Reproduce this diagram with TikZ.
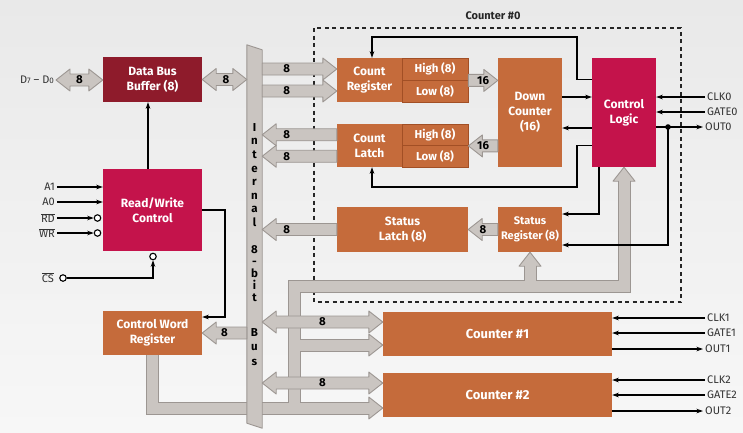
\documentclass[tikz,border=0pt]{standalone}
\usepackage{fontspec}
\setmainfont{Fira Sans}
\usetikzlibrary{calc,arrows.meta}
\definecolor{dred}{HTML}{8E1B2B}
\definecolor{crim}{HTML}{C4134B}
\definecolor{ora}{HTML}{C56B3B}
\definecolor{orad}{HTML}{A24F25}
\definecolor{pfill}{HTML}{CAC5C1}
\definecolor{pedge}{HTML}{9C9692}
\definecolor{bgT}{HTML}{E9E9E9}
\definecolor{bgB}{HTML}{F7F7F7}
\definecolor{sigc}{HTML}{333333}
\tikzset{
 box/.style={inner sep=0pt, text=white, font=\bfseries\fontsize{12}{15}\selectfont, align=center},
 dbox/.style={box, fill=dred},
 cbox/.style={box, fill=crim},
 obox/.style={box, fill=ora},
 hlbox/.style={box, fill=ora, draw=orad, line width=0.8pt, font=\bfseries\fontsize{11.5}{14}\selectfont},
 blk/.style={fill=pfill, draw=pedge, line width=0.9pt, line join=round},
 lbl8/.style={font=\bfseries\fontsize{11.5}{11.5}\selectfont, text=black, inner sep=0pt},
 conn/.style={draw=black, line width=1.1pt, -{Stealth[length=6.5pt,width=4.5pt]}},
 bub/.style={circle, draw=black, line width=1.1pt, fill=white, minimum size=6.5pt, inner sep=0pt},
 sig/.style={font=\fontsize{11}{11}\selectfont, text=sigc, inner sep=2pt},
 pipeout/.style={draw=pedge, line width=13pt},
 pipein/.style={draw=pfill, line width=11pt},
 bustxt/.style={font=\bfseries\fontsize{11.5}{13.6}\selectfont, align=center, inner sep=0pt},
 cbound/.style={draw=black!85, line width=1.3pt, dash pattern=on 4pt off 3.5pt},
}
\newcommand\blkarrow[4][0.5]{%
 \draw[blk] let \p1=(#2), \p2=(#3), \p3=($(\p2)!14pt!(\p1)$) in
  (\x1,\y1+6pt) -- (\x3,\y1+6pt) -- (\x3,\y1+11pt) -- (\x2,\y1) -- (\x3,\y1-11pt) -- (\x3,\y1-6pt) -- (\x1,\y1-6pt) -- cycle
  ($(\p1)!#1!(\p2)$) node[lbl8] {#4};}
\newcommand\blkdarrow[4][0.5]{%
 \draw[blk] let \p1=(#2), \p2=(#3), \p3=($(\p2)!14pt!(\p1)$), \p4=($(\p1)!14pt!(\p2)$) in
  (\x1,\y1) -- (\x4,\y1+11pt) -- (\x4,\y1+6pt) -- (\x3,\y1+6pt) -- (\x3,\y1+11pt) -- (\x2,\y1) -- (\x3,\y1-11pt) -- (\x3,\y1-6pt) -- (\x4,\y1-6pt) -- (\x4,\y1-11pt) -- cycle
  ($(\p1)!#1!(\p2)$) node[lbl8] {#4};}
\newcommand\pipenet[1]{%
 \draw[#1] (cwr.south) |- ($(c2.west |- pBot)+(-13,0)$);
 \draw[#1] (pBot) -- (pTop) -| ($(cl.south)+(0,13)$);
 \draw[#1] (pTop -| sr.south) -- ($(sr.south)+(0,13)$);
 \draw[#1] (pMid) -- ($(c1.west |- pMid)+(-13,0)$);}
\begin{document}
\begin{tikzpicture}[x=1pt,y=-1pt]
\useasboundingbox (0,0) rectangle (743,432);
\shade[top color=bgT, bottom color=bgB] (0,0) rectangle (743,432);

% boxes
\node[dbox, minimum width=99pt, minimum height=45pt] (dbb) at (152.5,79.5) {Data Bus\\Buffer (8)};
\node[cbox, minimum width=99pt, minimum height=82pt] (rwc) at (152.5,210) {Read/Write\\Control};
\node[obox, minimum width=99pt, minimum height=44pt] (cwr) at (152.5,333) {Control Word\\Register};
\node[obox, minimum width=65pt, minimum height=44pt] (crA) at (369.5,80) {Count\\Register};
\node[hlbox, minimum width=66pt, minimum height=22pt] (crH) at (435,69) {High (8)};
\node[hlbox, minimum width=66pt, minimum height=22pt] (crL) at (435,91) {Low (8)};
\node[obox, minimum width=65pt, minimum height=43pt] (clA) at (369.5,145.5) {Count\\Latch};
\node[hlbox, minimum width=66pt, minimum height=21.5pt] (clH) at (435,134.75) {High (8)};
\node[hlbox, minimum width=66pt, minimum height=21.5pt] (clL) at (435,156.25) {Low (8)};
\node[obox, minimum width=64pt, minimum height=109pt] (dc) at (530,112.5) {Down\\Counter\\(16)};
\node[cbox, minimum width=64pt, minimum height=109pt] (cl) at (624,112.5) {Control\\Logic};
\node[obox, minimum width=131pt, minimum height=45pt] (sl) at (402.5,229.5) {Status\\Latch (8)};
\node[obox, minimum width=64pt, minimum height=45pt, font=\bfseries\fontsize{11}{15}\selectfont] (sr) at (530,229.5) {Status\\Register (8)};
\node[obox, minimum width=229pt, minimum height=44pt, font=\bfseries\fontsize{13}{15}\selectfont] (c1) at (497.5,334) {Counter \#1};
\node[obox, minimum width=229pt, minimum height=44pt, font=\bfseries\fontsize{13}{15}\selectfont] (c2) at (497.5,395) {Counter \#2};
\node[inner sep=0pt, minimum width=15pt, minimum height=383pt] (bus) at (254.5,236.5) {};

% Counter #0 boundary
\draw[cbound] (314,28) rectangle (681,302);
\node[font=\bfseries\fontsize{11}{11}\selectfont, text=black!85] (c0lbl) at (493,16) {Counter \#0};

% wide internal buses
\coordinate (pBot) at (294,408);
\coordinate (pTop) at (294,286);
\coordinate (pMid) at (294,345);
\pipenet{pipeout}
\draw[blk] (c2.west |- pBot) -- ++(-14,-11) -- ++(0,22) -- cycle;
\draw[blk] (c1.west |- pMid) -- ++(-14,-11) -- ++(0,22) -- cycle;
\draw[blk] (sr.south) -- ++(-11,14) -- ++(22,0) -- cycle;
\draw[blk] (cl.south) -- ++(-11,14) -- ++(22,0) -- cycle;
\pipenet{pipein}

% internal bus bar
\draw[blk] (bus.north west) -- ([yshift=-5pt]bus.north east) -- (bus.south east) -- ([yshift=5pt]bus.south west) -- cycle;
\node[bustxt] (bt1) at (254.5,175) {I\\n\\t\\e\\r\\n\\a\\l};
\node[bustxt, font=\bfseries\fontsize{11.5}{12}\selectfont] (bt2) at (254.5,274) {8\\-\\b\\i\\t};
\node[bustxt, font=\bfseries\fontsize{11.5}{14.5}\selectfont] (bt3) at (254.5,347) {B\\u\\s};

% signal labels
\node[sig, anchor=east] (dd) at (56,80) {D{\fontsize{8}{8}\selectfont 7} -- D{\fontsize{8}{8}\selectfont 0}};
\node[sig, anchor=east] (a1) at (57,187) {A1};
\node[sig, anchor=east] (a0) at (57,202) {A0};
\node[sig, anchor=east] (rd) at (57,218) {$\overline{\mbox{RD}}$};
\node[sig, anchor=east] (wr) at (57,233) {$\overline{\mbox{WR}}$};
\node[sig, anchor=east] (cs) at (56,278) {$\overline{\mbox{CS}}$};
\node[bub] (rdb) at (97.5,218) {};
\node[bub] (wrb) at (97.5,233) {};
\node[bub] (csb) at (63,278) {};
\node[bub] (csb2) at (153,256.5) {};
\node[sig, anchor=west] (clk0) at (705,97) {CLK0};
\node[sig, anchor=west] (gate0) at (705,112) {GATE0};
\node[sig, anchor=west] (out0) at (703,127) {OUT0};
\node[sig, anchor=west] (clk1) at (705,318) {CLK1};
\node[sig, anchor=west] (gate1) at (705,333) {GATE1};
\node[sig, anchor=west] (out1) at (703,349) {OUT1};
\node[sig, anchor=west] (clk2) at (705,380) {CLK2};
\node[sig, anchor=west] (gate2) at (705,395) {GATE2};
\node[sig, anchor=west] (out2) at (703,411) {OUT2};

% block arrows
\blkdarrow{dd.east}{dbb.west |- dd.east}{8}
\blkdarrow[0.53]{dbb.east}{bus.west |- dbb.east}{8}
\blkarrow[0.33]{bus.east |- crH.west}{crA.west |- crH.west}{8}
\blkarrow[0.33]{bus.east |- crL.west}{crA.west |- crL.west}{8}
\blkarrow[0.67]{clA.west |- clH.west}{bus.east |- clH.west}{8}
\blkarrow[0.67]{clA.west |- clL.west}{bus.east |- clL.west}{8}
\blkarrow{crH.south east}{dc.west |- crH.south east}{16}
\blkarrow{dc.west |- clH.south east}{clH.south east}{16}
\blkarrow{sr.west}{sl.east}{8}
\blkarrow[0.67]{sl.west}{bus.east |- sl.west}{8}
\blkarrow{bus.west |- cwr.east}{cwr.east}{8}
\coordinate (d1) at (262,322);
\coordinate (d2) at (262,383);
\blkdarrow{bus.east |- d1}{c1.west |- d1}{8}
\blkdarrow{bus.east |- d2}{c2.west |- d2}{8}

% control lines
\draw[conn] ([xshift=-4.5pt]rwc.north) -- ([xshift=-4.5pt]dbb.south);
\draw[conn] (a1.east) -- (rwc.west |- a1.east);
\draw[conn] (a0.east) -- (rwc.west |- a0.east);
\draw[conn] (rd.east |- rdb) -- (rdb.west);
\draw[conn] (wr.east |- wrb) -- (wrb.west);
\draw[conn] (csb.east) -| (csb2.south);
\coordinate (rwA) at (225,317);
\draw[conn] (rwc.east) -| (rwA) -- (rwA -| cwr.east);

\coordinate (t1) at (577,37);
\coordinate (t2) at (577,187);
\draw[conn] (cl.west |- crL.north) -| (t1) -| ([xshift=2.5pt]crA.north);
\draw[conn] (cl.west |- clH.south) -| (t2) -| ([xshift=2.5pt]clA.south);
\coordinate (y97) at (0,97);
\coordinate (y128) at (0,128);
\draw[conn] (dc.east |- y97) -- (cl.west |- y97);
\draw[conn] (cl.west |- y128) -- (dc.east |- y128);
\draw[conn] (clk0.west) -- (cl.east |- clk0.west);
\draw[conn] (gate0.west) -- (cl.east |- gate0.west);
\draw[conn] (cl.east |- out0.west) -- (out0.west);
\coordinate (dot0) at (668,127);
\fill (dot0) circle (2.8pt);
\coordinate (s245) at (0,245);
\coordinate (s214) at (0,214);
\draw[conn] (dot0) |- (sr.east |- s245);
\draw[conn] ([xshift=-25pt]cl.south) |- (sr.east |- s214);

\draw[conn] (clk1.west) -- (c1.east |- clk1.west);
\draw[conn] (gate1.west) -- (c1.east |- gate1.west);
\draw[conn] (c1.east |- out1.west) -- (out1.west);
\draw[conn] (clk2.west) -- (c2.east |- clk2.west);
\draw[conn] (gate2.west) -- (c2.east |- gate2.west);
\draw[conn] (c2.east |- out2.west) -- (out2.west);
\end{tikzpicture}
\end{document}
